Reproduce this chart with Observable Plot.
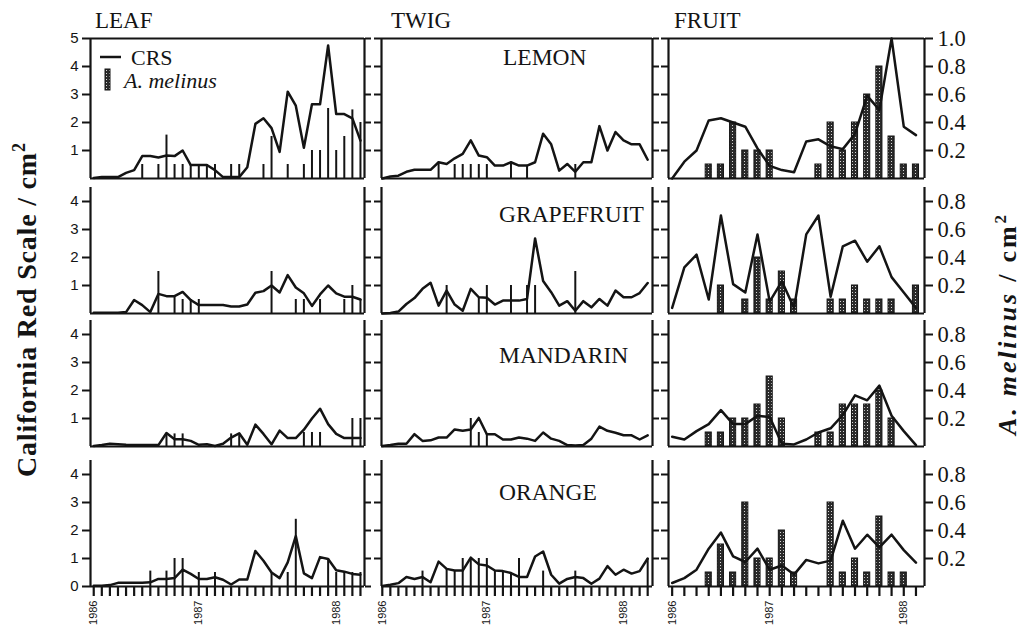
<!DOCTYPE html>
<html><head><meta charset="utf-8">
<script src="https://cdn.jsdelivr.net/npm/d3@7"></script>
<script src="https://cdn.jsdelivr.net/npm/@observablehq/plot@0.6"></script>
<style>
body{margin:0;background:#fff;}
#wrap{position:relative;width:1024px;height:633px;overflow:hidden;background:#fff;}
.pan{position:absolute;}
#ov{position:absolute;left:0;top:0;z-index:2;pointer-events:none;}
</style></head><body>
<div id="wrap"></div>
<script>
// ---------- DATA ----------
const tissues = ["LEAF", "TWIG", "FRUIT"];
const crops = ["LEMON", "GRAPEFRUIT", "MANDARIN", "ORANGE"];
const yearLabels = ["1986", "1987", "1988"];
const yearSampleLeafTwig = [0, 13, 30];
const yearSampleFruit = [0, 8, 19];
const yTicksTop = [1, 2, 3, 4, 5];
const yTicks = [1, 2, 3, 4];
const yTicksBottom = [0, 1, 2, 3, 4];
const fruitTicksTop = [0.2, 0.4, 0.6, 0.8, 1.0];
const fruitTicks = [0.2, 0.4, 0.6, 0.8];

// CRS per sample (leaf & twig: 34 samples, fruit: 21 samples)
const leafLemonCRS = [0.02,0.05,0.05,0.05,0.2,0.3,0.8,0.8,0.75,0.82,0.8,1.0,0.48,0.48,0.48,0.3,0.05,0.05,0.05,0.4,1.95,2.15,1.8,0.95,3.1,2.6,1.1,2.65,2.65,4.75,2.3,2.3,2.15,1.35];
const leafGrapeCRS = [0.03,0.03,0.03,0.03,0.05,0.48,0.3,0.05,0.7,0.62,0.62,0.77,0.48,0.3,0.3,0.3,0.3,0.25,0.25,0.32,0.74,0.8,1.0,0.75,1.37,0.93,0.72,0.27,0.68,1.0,0.72,0.6,0.6,0.5];
const leafMandCRS = [0.02,0.05,0.1,0.08,0.06,0.05,0.05,0.05,0.05,0.48,0.26,0.26,0.2,0.06,0.08,0.02,0.1,0.32,0.47,0.06,0.78,0.45,0.08,0.57,0.3,0.3,0.6,1.0,1.35,0.8,0.45,0.3,0.3,0.3];
const leafOrangeCRS = [0.03,0.03,0.05,0.13,0.13,0.13,0.13,0.15,0.27,0.27,0.3,0.6,0.45,0.27,0.27,0.33,0.24,0.07,0.25,0.25,1.27,0.92,0.5,0.3,0.86,1.8,0.47,0.3,1.05,0.98,0.58,0.53,0.45,0.42];
const twigLemonCRS = [0,0.07,0.1,0.24,0.31,0.31,0.31,0.58,0.52,0.72,0.88,1.36,0.82,0.76,0.46,0.46,0.58,0.46,0.46,0.58,1.6,1.22,0.28,0.52,0.24,0.58,0.58,1.87,1.0,1.66,1.36,1.22,1.22,0.67];
const twigGrapeCRS = [0,0.02,0.07,0.34,0.55,0.88,1.1,0.28,0.82,0.32,0.1,0.88,0.58,0.56,0.32,0.46,0.46,0.46,0.52,2.68,1.16,0.76,0.28,0.44,0.1,0.44,0.22,0.52,0.28,0.82,0.58,0.58,0.73,1.09];
const twigMandCRS = [0.02,0.05,0.1,0.1,0.44,0.2,0.22,0.32,0.32,0.61,0.56,0.61,1.02,0.44,0.44,0.25,0.25,0.32,0.28,0.2,0.5,0.28,0.2,0.05,0.04,0.05,0.28,0.71,0.56,0.49,0.4,0.4,0.25,0.4];
const twigOrangeCRS = [0.02,0.06,0.12,0.34,0.27,0.34,0.15,0.89,0.63,0.57,0.57,1.03,0.79,0.75,0.57,0.55,0.48,0.34,0.34,1.07,1.25,0.42,0.1,0.27,0.34,0.3,0.1,0.28,0.73,0.42,0.6,0.46,0.55,1.0];
const fruitLemonCRS = [0,0.12,0.2,0.415,0.43,0.4,0.37,0.215,0.09,0.06,0.045,0.265,0.28,0.23,0.21,0.32,0.59,0.49,1.0,0.37,0.31];
const fruitGrapeCRS = [0.04,0.33,0.42,0.1,0.7,0.21,0.15,0.565,0.085,0.23,0.04,0.565,0.7,0.12,0.48,0.52,0.37,0.48,0.26,0.15,0.04];
const fruitMandCRS = [0.07,0.05,0.11,0.16,0.26,0.16,0.16,0.22,0.21,0.02,0.015,0.05,0.1,0.13,0.225,0.365,0.33,0.435,0.22,0.11,0.01];
const fruitOrangeCRS = [0.025,0.06,0.12,0.27,0.385,0.215,0.175,0.27,0.12,0.15,0.085,0.19,0.165,0.185,0.47,0.27,0.37,0.28,0.37,0.26,0.17];

// A. melinus: [sample, value]
const leafLemonAm = [[6,0.5],[8,0.5],[9,1.55],[10,0.5],[11,0.5],[12,0.5],[13,0.5],[14,0.5],[15,0.5],[17,0.5],[18,0.5],[21,0.5],[22,1.5],[24,0.5],[26,0.5],[27,1.0],[28,1.0],[29,2.5],[30,1.0],[31,1.5],[32,2.45],[33,2.0]];
const leafGrapeAm = [[8,1.5],[10,0.6],[11,0.5],[12,0.5],[13,0.5],[22,1.5],[25,0.5],[26,0.5],[28,0.5],[31,0.5],[32,1.0],[33,0.5]];
const leafMandAm = [[9,0.45],[10,0.45],[11,0.45],[17,0.45],[18,0.45],[26,0.5],[27,0.5],[28,0.5],[32,1.0],[33,1.0]];
const leafOrangeAm = [[7,0.55],[9,0.55],[10,1.0],[11,1.0],[13,0.5],[15,0.5],[22,0.5],[24,0.5],[25,2.4],[29,1.0],[30,0.5],[31,0.5],[32,0.5],[33,0.5]];
const twigLemonAm = [[7,0.58],[9,0.5],[10,0.5],[11,0.5],[12,0.5],[13,0.5],[16,0.55],[18,0.45],[24,0.5]];
const twigGrapeAm = [[8,1.0],[12,0.55],[13,1.0],[16,1.0],[18,1.0],[19,1.0],[24,1.5]];
const twigMandAm = [[11,1.0],[12,0.5],[13,0.45]];
const twigOrangeAm = [[5,0.55],[8,0.6],[9,0.55],[10,1.0],[11,1.0],[12,1.0],[13,1.0],[14,0.55],[15,0.55],[16,0.5],[17,1.0],[20,0.55],[24,0.55],[33,1.0]];
const fruitLemonAm = [[3,0.1],[4,0.1],[5,0.4],[6,0.2],[7,0.2],[8,0.2],[12,0.1],[13,0.4],[14,0.2],[15,0.4],[16,0.6],[17,0.8],[18,0.3],[19,0.1],[20,0.1]];
const fruitGrapeAm = [[4,0.2],[6,0.1],[7,0.4],[8,0.1],[9,0.3],[10,0.1],[13,0.1],[14,0.1],[15,0.2],[16,0.1],[17,0.1],[18,0.1],[20,0.2]];
const fruitMandAm = [[3,0.1],[4,0.1],[5,0.2],[6,0.2],[7,0.3],[8,0.5],[9,0.2],[12,0.1],[13,0.1],[14,0.3],[15,0.3],[16,0.3],[17,0.4],[18,0.2]];
const fruitOrangeAm = [[3,0.1],[4,0.3],[5,0.1],[6,0.6],[7,0.2],[8,0.2],[9,0.4],[10,0.1],[13,0.6],[14,0.1],[15,0.2],[16,0.1],[17,0.5],[18,0.1],[19,0.1]];

// ---------- LAYOUT ----------
const CRS = [[leafLemonCRS,leafGrapeCRS,leafMandCRS,leafOrangeCRS],[twigLemonCRS,twigGrapeCRS,twigMandCRS,twigOrangeCRS],[fruitLemonCRS,fruitGrapeCRS,fruitMandCRS,fruitOrangeCRS]];
const AM = [[leafLemonAm,leafGrapeAm,leafMandAm,leafOrangeAm],[twigLemonAm,twigGrapeAm,twigMandAm,twigOrangeAm],[fruitLemonAm,fruitGrapeAm,fruitMandAm,fruitOrangeAm]];
const colGeo = [{x0:90,x1:364,dom:[-0.4,33.5]},{x0:381,x1:652,dom:[-0.1,33.6]},{x0:668,x1:924,dom:[-0.3,20.7]}];
const rowGeo = [{top:38,bottom:178,max:5},{top:186.5,bottom:312.5,max:4.5},{top:320,bottom:446,max:4.5},{top:460,bottom:586,max:4.5}];
const SERIF = "'Liberation Serif','Times New Roman',serif";
const SANS = "'Liberation Sans',Arial,sans-serif";
const INK = "#141414";

const wrap = document.getElementById("wrap");

function panel(r, c) {
  const cg = colGeo[c], rg = rowGeo[r];
  const fruit = c === 2, last = r === 3;
  const ymax = fruit ? rg.max / 5 : rg.max;
  const mL = 45, mR = fruit ? 75 : 12, mT = 4, mB = last ? 50 : 4;
  const W = cg.x1 - cg.x0, H = rg.bottom - rg.top;
  const crs = CRS[c][r], am = AM[c][r];
  const n = crs.length;
  let yt;
  if (fruit) yt = r === 0 ? fruitTicksTop : fruitTicks;
  else yt = r === 0 ? yTicksTop : (last && c === 0 ? yTicksBottom : yTicks);
  const marks = [];
  if (fruit) {
    marks.push(Plot.rect(am, {x1: d => d[0] - 0.25, x2: d => d[0] + 0.25, y1: 0, y2: d => d[1], fill: "url(#stip)", stroke: INK, strokeWidth: 1}));
  } else {
    marks.push(Plot.ruleX(am, {x: d => d[0], y1: 0, y2: d => d[1], stroke: INK, strokeWidth: 2}));
  }
  marks.push(Plot.line(crs, {x: (d, i) => i, y: d => d, stroke: INK, strokeWidth: 2.5, strokeLinejoin: "round"}));
  marks.push(Plot.ruleX(cg.dom, {stroke: INK, strokeWidth: 2.2}));
  marks.push(Plot.ruleY([0], {stroke: INK, strokeWidth: 2.2}));
  if (r === 0) marks.push(Plot.ruleY([ymax], {stroke: INK, strokeWidth: 2.2}));
  marks.push(Plot.axisY({anchor: "left", ticks: yt, tickSize: c === 0 ? 8 : 7, strokeWidth: 2, tickPadding: 4,
    tickFormat: c === 0 ? (d => String(d)) : (() => ""), fill: INK, label: null}));
  marks.push(Plot.axisY({anchor: "right", ticks: yt, tickSize: fruit ? 8 : 6, strokeWidth: 2, tickPadding: 5,
    tickFormat: fruit ? d3.format(".1f") : (() => ""), fill: INK, label: null}));
  if (last) {
    const ys = fruit ? yearSampleFruit : yearSampleLeafTwig;
    marks.push(Plot.axisX({anchor: "bottom", ticks: d3.range(n), tickSize: 10, strokeWidth: 2.2, tickFormat: () => "", label: null}));
    marks.push(Plot.axisX({anchor: "bottom", ticks: ys, tickSize: 0, tickPadding: 14, tickRotate: -90,
      tickFormat: d => yearLabels[ys.indexOf(d)], fill: INK, label: null}));
  }
  const svg = Plot.plot({
    width: W + mL + mR, height: H + mT + mB,
    marginLeft: mL, marginRight: mR, marginTop: mT, marginBottom: mB,
    x: {domain: cg.dom, axis: null},
    y: {domain: [0, ymax], axis: null},
    style: {background: "transparent", overflow: "visible", color: INK},
    marks
  });
  d3.select(svg).selectAll("text").each(function () {
    const t = this.textContent;
    if (/^\d{4}$/.test(t)) {
      this.style.fontSize = "11px"; this.style.fontFamily = SANS;
    } else if (c === 0) {
      this.style.fontSize = "15px"; this.style.fontFamily = SANS;
    } else if (fruit) {
      this.style.fontSize = "22.5px"; this.style.fontFamily = SERIF;
    }
  });
  const div = document.createElement("div");
  div.className = "pan";
  div.style.left = (cg.x0 - mL) + "px";
  div.style.top = (rg.top - mT) + "px";
  div.style.width = (W + mL + mR) + "px";
  div.appendChild(svg);
  wrap.appendChild(div);
}

for (let c = 0; c < 3; c++) for (let r = 0; r < 4; r++) panel(r, c);

// ---------- TEXT OVERLAY ----------
const ns = "http://www.w3.org/2000/svg";
const ov = document.createElementNS(ns, "svg");
ov.setAttribute("id", "ov"); ov.setAttribute("width", 1024); ov.setAttribute("height", 633);
const tissueX = [95, 391, 674];
const cropPos = [[503, 65], [499, 222], [499, 363], [499, 500]];
let html = `<defs><pattern id="stip" width="3" height="3" patternUnits="userSpaceOnUse">
<rect width="3" height="3" fill="#2a2a2a"/><rect x="1" y="1" width="1" height="1" fill="#d8d8d8"/></pattern></defs>
<g font-family="${SERIF}" fill="${INK}">`;
tissues.forEach((t, i) => { html += `<text x="${tissueX[i]}" y="28" font-size="23">${t}</text>`; });
crops.forEach((t, i) => { html += `<text x="${cropPos[i][0]}" y="${cropPos[i][1]}" font-size="23.5">${t}</text>`; });
html += `<line x1="100" x2="121" y1="57" y2="57" stroke="${INK}" stroke-width="2.5"/>
<text x="131" y="65" font-size="22">CRS</text>
<rect x="105" y="69" width="5" height="21" fill="url(#stip)" stroke="${INK}" stroke-width="1"/>
<text x="124" y="88" font-size="22" font-style="italic">A. melinus</text>
<text transform="translate(36,310) rotate(-90)" text-anchor="middle" font-size="28" font-weight="bold" textLength="334" lengthAdjust="spacing">California Red Scale / cm<tspan font-size="18" dy="-11">2</tspan></text>
<text transform="translate(1016,325) rotate(-90)" text-anchor="middle" font-size="26" font-weight="bold" textLength="220" lengthAdjust="spacing"><tspan font-style="italic">A. melinus</tspan>  /  cm<tspan font-size="17" dy="-10">2</tspan></text>
</g>`;
ov.innerHTML = html;
wrap.appendChild(ov);
</script>
</body></html>
